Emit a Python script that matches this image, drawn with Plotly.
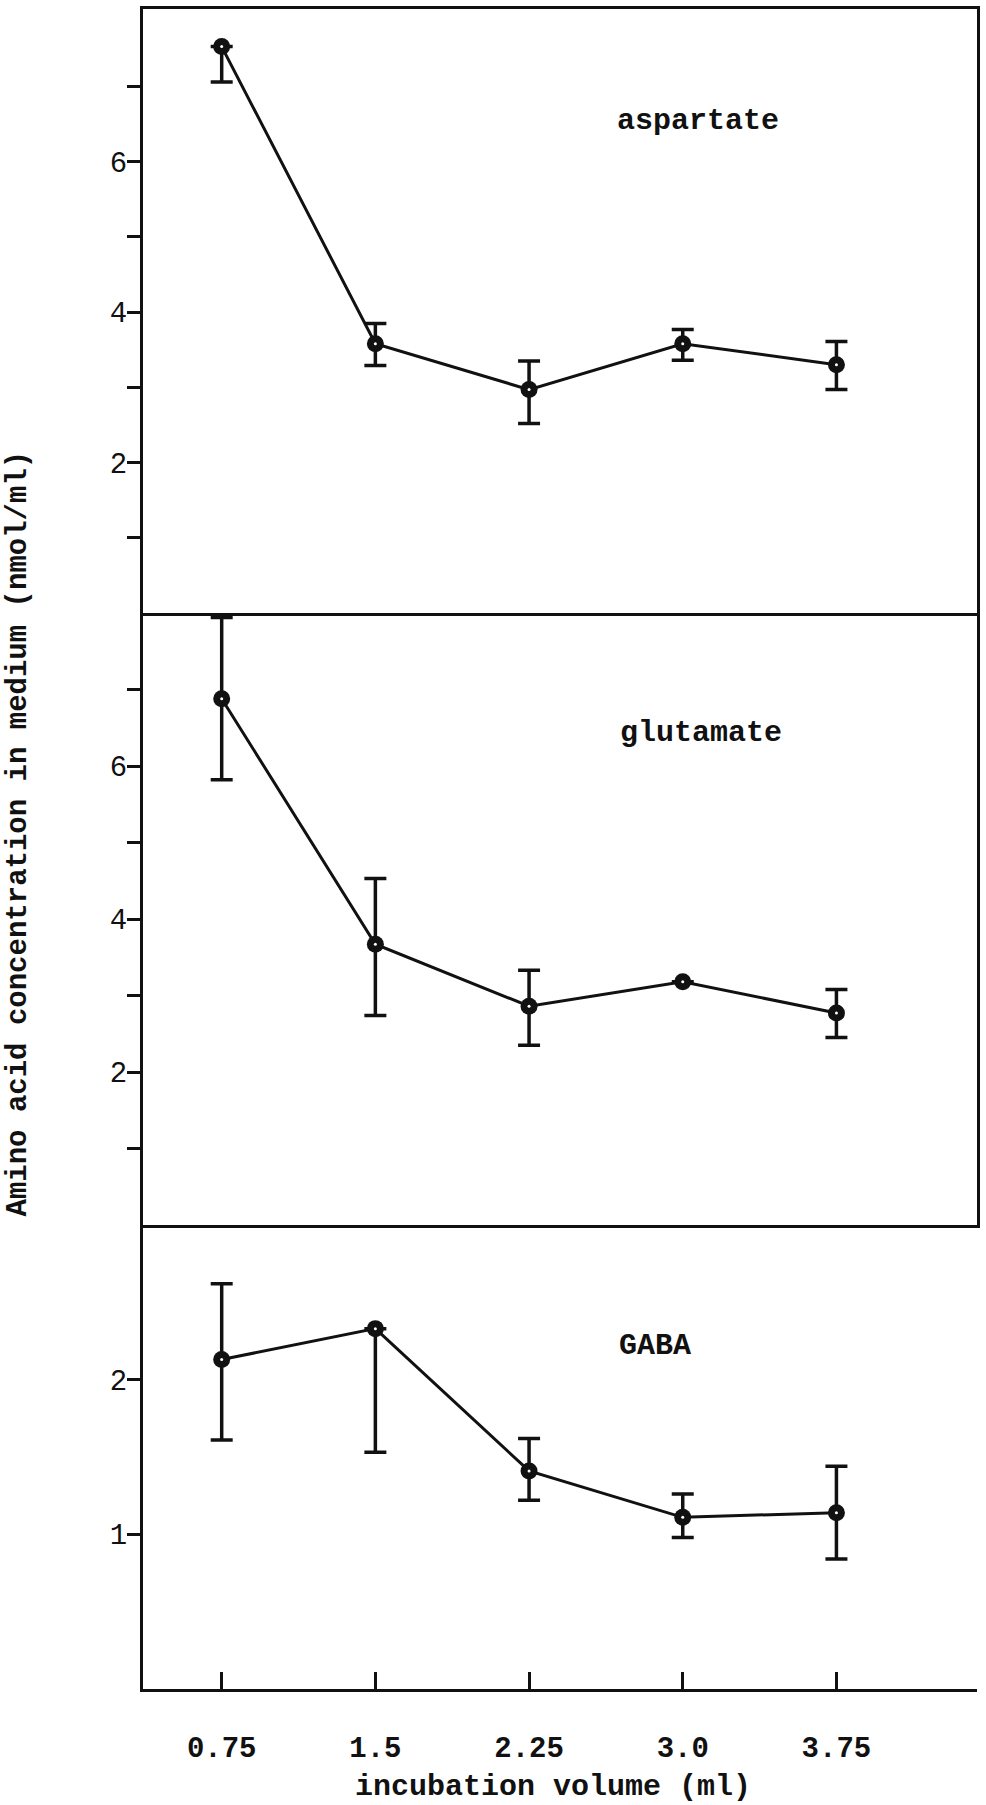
import plotly.graph_objects as go
from plotly.subplots import make_subplots

volumes = [0.75, 1.5, 2.25, 3.0, 3.75]
x_tick_labels = ["0.75", "1.5", "2.25", "3.0", "3.75"]

asp_mean = [7.53, 3.58, 2.97, 3.58, 3.30]
asp_plus = [0.0, 0.27, 0.38, 0.19, 0.31]
asp_minus = [0.47, 0.29, 0.45, 0.22, 0.33]

glu_mean = [6.88, 3.67, 2.86, 3.18, 2.77]
glu_plus = [1.06, 0.86, 0.47, 0.0, 0.31]
glu_minus = [1.06, 0.93, 0.51, 0.0, 0.32]

gaba_mean = [2.13, 2.33, 1.41, 1.11, 1.14]
gaba_plus = [0.49, 0.0, 0.21, 0.15, 0.30]
gaba_minus = [0.52, 0.80, 0.19, 0.13, 0.30]

panel_names = ["aspartate", "glutamate", "GABA"]

FONT = "Liberation Mono, Courier New, monospace"
INK = "#111111"

fig = make_subplots(rows=3, cols=1, shared_xaxes=False, vertical_spacing=0,
                    row_heights=[604, 612, 464])

series = [(asp_mean, asp_plus, asp_minus), (glu_mean, glu_plus, glu_minus),
          (gaba_mean, gaba_plus, gaba_minus)]

for i, (m, p, mi) in enumerate(series, start=1):
    fig.add_trace(go.Scatter(
        x=volumes, y=m, mode="lines+markers",
        line=dict(color=INK, width=3),
        marker=dict(symbol="circle", size=17, color=INK),
        error_y=dict(type="data", symmetric=False, array=p, arrayminus=mi,
                     color=INK, thickness=3.5, width=11),
        showlegend=False, cliponaxis=False), row=i, col=1)
    fig.add_trace(go.Scatter(
        x=volumes, y=m, mode="markers",
        marker=dict(symbol="circle", size=3, color="white"),
        showlegend=False, hoverinfo="skip", cliponaxis=False), row=i, col=1)

xr = [0.366, 4.436]
for i in range(1, 4):
    fig.update_xaxes(range=xr, row=i, col=1, showline=True, linecolor=INK,
                     linewidth=3, mirror=(i == 1),
                     showgrid=False, zeroline=False,
                     showticklabels=(i == 3),
                     ticks="inside" if i == 3 else "",
                     tickvals=volumes, ticktext=x_tick_labels,
                     ticklen=17, tickwidth=3, tickcolor=INK,
                     tickfont=dict(family=FONT, size=29, color=INK, weight="bold"),
                     ticklabelstandoff=30)

fig.update_yaxes(range=[0, 8.03], row=1, col=1, tickvals=[1, 2, 3, 4, 5, 6, 7],
                 ticktext=["", "2", "", "4", "", "6", ""], mirror=True)
fig.update_yaxes(range=[0, 8.0], row=2, col=1, tickvals=[1, 2, 3, 4, 5, 6, 7],
                 ticktext=["", "2", "", "4", "", "6", ""], mirror=True)
fig.update_yaxes(range=[0, 3.0], row=3, col=1, tickvals=[1, 2],
                 ticktext=["1", "2"], mirror=False)
fig.update_yaxes(showline=True, linecolor=INK, linewidth=3, showgrid=False,
                 zeroline=False, ticks="outside", ticklen=13, tickwidth=3,
                 tickcolor=INK, tickfont=dict(family=FONT, size=29, color=INK),
                 ticklabelstandoff=-6)

label_pos = [(0.6655, 0.9333), (0.669, 0.569), (0.614, 0.2042)]
for name, (ax, ay) in zip(panel_names, label_pos):
    fig.add_annotation(text=name, xref="paper", yref="paper", x=ax, y=ay,
                       xanchor="center", yanchor="middle",
                       showarrow=False,
                       font=dict(family=FONT, size=30, color=INK, weight="bold"))

fig.add_annotation(text="Amino acid concentration in medium (nmol/ml)",
                   xref="paper", yref="paper", x=-0.1493, y=0.5095,
                   xanchor="center", yanchor="middle",
                   textangle=-90, showarrow=False,
                   font=dict(family=FONT, size=29, color=INK, weight="bold"))
fig.add_annotation(text="incubation volume (ml)", xref="paper", yref="paper",
                   x=0.492, y=-0.0583, xanchor="center", yanchor="middle",
                   showarrow=False,
                   font=dict(family=FONT, size=30, color=INK, weight="bold"))

fig.update_layout(width=986, height=1805,
                  margin=dict(l=143, r=6, t=9, b=116),
                  paper_bgcolor="white", plot_bgcolor="white")

fig.write_html("out.html")
